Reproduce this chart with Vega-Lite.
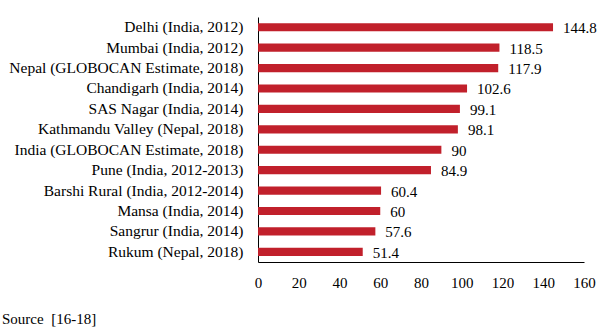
{
  "$schema": "https://vega.github.io/schema/vega-lite/v6.json",
  "width": 326,
  "height": 245,
  "autosize": {"type": "none"},
  "padding": {"left": 258, "top": 17, "right": 28, "bottom": 72},
  "background": "white",
  "config": {
    "view": {"stroke": null},
    "font": "Liberation Serif"
  },
  "title": {
    "text": "Source\u00a0\u00a0[16-18]",
    "orient": "bottom",
    "anchor": "start",
    "frame": "group",
    "dx": -256,
    "offset": 22,
    "font": "Liberation Serif",
    "fontSize": 15,
    "fontWeight": "normal",
    "color": "black"
  },
  "data": {
    "values": [
      {"site": "Delhi (India, 2012)", "rate": 144.8},
      {"site": "Mumbai (India, 2012)", "rate": 118.5},
      {"site": "Nepal (GLOBOCAN Estimate, 2018)", "rate": 117.9},
      {"site": "Chandigarh (India, 2014)", "rate": 102.6},
      {"site": "SAS Nagar (India, 2014)", "rate": 99.1},
      {"site": "Kathmandu Valley (Nepal, 2018)", "rate": 98.1},
      {"site": "India (GLOBOCAN Estimate, 2018)", "rate": 90},
      {"site": "Pune (India, 2012-2013)", "rate": 84.9},
      {"site": "Barshi Rural (India, 2012-2014)", "rate": 60.4},
      {"site": "Mansa (India, 2014)", "rate": 60},
      {"site": "Sangrur (India, 2014)", "rate": 57.6},
      {"site": "Rukum (Nepal, 2018)", "rate": 51.4}
    ]
  },
  "encoding": {
    "y": {
      "field": "site",
      "type": "nominal",
      "sort": null,
      "scale": {"paddingInner": 0.6, "paddingOuter": 0.3},
      "axis": {
        "title": null,
        "ticks": false,
        "tickSize": 0,
        "labelPadding": 15,
        "labelFont": "Liberation Serif",
        "labelFontSize": 15.5,
        "labelColor": "black",
        "domainColor": "black",
        "domainWidth": 1,
        "labelLimit": 400
      }
    },
    "x": {
      "field": "rate",
      "type": "quantitative",
      "scale": {"domain": [0, 160], "nice": false},
      "axis": {
        "title": null,
        "values": [0, 20, 40, 60, 80, 100, 120, 140, 160],
        "grid": false,
        "ticks": false,
        "tickSize": 0,
        "labelFlush": false,
        "labelPadding": 13,
        "labelFont": "Liberation Serif",
        "labelFontSize": 15,
        "labelColor": "black",
        "domainColor": "black",
        "domainWidth": 1
      }
    }
  },
  "layer": [
    {"mark": {"type": "bar", "color": "#C1202B"}},
    {
      "mark": {"type": "text", "align": "left", "baseline": "middle", "dx": 10, "dy": 1, "font": "Liberation Serif", "fontSize": 15, "color": "black"},
      "encoding": {"text": {"field": "rate", "type": "quantitative"}}
    }
  ]
}
